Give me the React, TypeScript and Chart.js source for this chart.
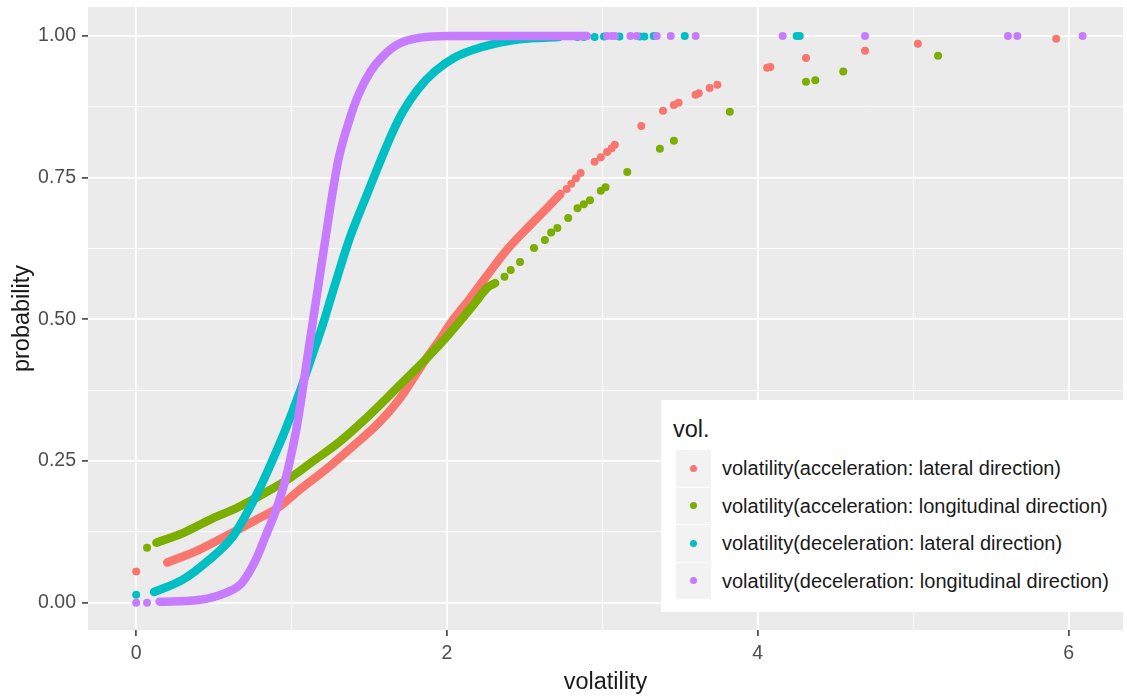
import React, { useEffect, useRef } from 'react';
import { Chart, registerables } from 'chart.js';

Chart.register(...registerables);

const FONT = '"Liberation Sans", Arial, Helvetica, sans-serif';

const SERIES_NAMES = [
  'volatility(acceleration: lateral direction)',
  'volatility(acceleration: longitudinal direction)',
  'volatility(deceleration: lateral direction)',
  'volatility(deceleration: longitudinal direction)',
];
const SERIES_COLORS = ['#F8766D', '#7CAE00', '#00BFC4', '#C77CFF'];

// acceleration: lateral direction (red)
const accLatDenseX = [0.2, 0.4, 0.6, 0.77, 0.92, 1.05, 1.22, 1.39, 1.56, 1.69, 1.77, 1.85, 1.95, 2.03, 2.14, 2.26, 2.39, 2.52, 2.65, 2.73];
const accLatDenseY = [0.071, 0.093, 0.121, 0.146, 0.169, 0.199, 0.235, 0.275, 0.317, 0.358, 0.39, 0.424, 0.463, 0.496, 0.534, 0.578, 0.624, 0.662, 0.698, 0.721];
const accLatDotsX = [0, 2.77, 2.8, 2.83, 2.86, 2.95, 2.99, 3.03, 3.06, 3.08, 3.25, 3.39, 3.46, 3.49, 3.6, 3.62, 3.69, 3.74, 4.06, 4.08, 4.31, 4.69, 5.03, 5.92];
const accLatDotsY = [0.055, 0.73, 0.739, 0.749, 0.758, 0.778, 0.786, 0.795, 0.802, 0.808, 0.841, 0.868, 0.878, 0.882, 0.896, 0.899, 0.908, 0.914, 0.944, 0.945, 0.961, 0.974, 0.986, 0.995];

// acceleration: longitudinal direction (green)
const accLonDenseX = [0.13, 0.3, 0.47, 0.66, 0.83, 1.0, 1.15, 1.3, 1.47, 1.62, 1.7, 1.8, 1.9, 2.0, 2.09, 2.18, 2.26, 2.31];
const accLonDenseY = [0.106, 0.123, 0.146, 0.169, 0.194, 0.222, 0.252, 0.282, 0.323, 0.363, 0.385, 0.412, 0.44, 0.47, 0.499, 0.529, 0.556, 0.564];
const accLonDotsX = [0.07, 2.37, 2.41, 2.47, 2.56, 2.63, 2.67, 2.71, 2.78, 2.84, 2.88, 2.92, 2.99, 3.02, 3.16, 3.37, 3.46, 3.82, 4.31, 4.37, 4.55, 5.16];
const accLonDotsY = [0.097, 0.575, 0.587, 0.601, 0.626, 0.64, 0.653, 0.661, 0.679, 0.696, 0.703, 0.71, 0.727, 0.733, 0.76, 0.801, 0.815, 0.866, 0.919, 0.922, 0.937, 0.965];

// deceleration: lateral direction (cyan)
const decLatDenseX = [0.115, 0.3, 0.47, 0.62, 0.7, 0.79, 0.87, 0.96, 1.05, 1.1, 1.15, 1.2, 1.25, 1.3, 1.37, 1.47, 1.58, 1.65, 1.72, 1.81, 1.92, 2.05, 2.22, 2.44, 2.65, 2.72];
const decLatDenseY = [0.019, 0.041, 0.076, 0.116, 0.152, 0.199, 0.247, 0.305, 0.37, 0.41, 0.45, 0.49, 0.535, 0.58, 0.64, 0.71, 0.785, 0.83, 0.868, 0.905, 0.937, 0.962, 0.98, 0.993, 0.997, 0.998];
const decLatDotsX = [0, 2.84, 2.88, 2.95, 3.01, 3.11, 3.24, 3.27, 3.33, 3.53, 4.25, 4.27];
const decLatDotsY = [0.014, 0.998, 0.998, 0.998, 0.999, 0.999, 0.999, 0.999, 1.0, 1.0, 1.0, 1.0];

// deceleration: longitudinal direction (purple)
const decLonDenseX = [0.15, 0.4, 0.58, 0.68, 0.77, 0.83, 0.9, 0.96, 1.03, 1.06, 1.1, 1.15, 1.2, 1.25, 1.3, 1.37, 1.43, 1.51, 1.58, 1.69, 1.83, 2.0, 2.3, 2.6, 2.9];
const decLonDenseY = [0.002, 0.005, 0.018, 0.035, 0.076, 0.116, 0.164, 0.217, 0.305, 0.355, 0.43, 0.52, 0.61, 0.7, 0.78, 0.85, 0.896, 0.938, 0.962, 0.986, 0.997, 1.0, 1.0, 1.0, 1.0];
const decLonDotsX = [0, 0.07, 3.03, 3.06, 3.08, 3.18, 3.22, 3.35, 3.44, 3.6, 4.16, 4.69, 5.61, 5.67, 6.09];
const decLonDotsY = [0, 0, 1.0, 1.0, 1.0, 1.0, 1.0, 1.0, 1.0, 1.0, 1.0, 1.0, 1.0, 1.0, 1.0];

const X_TICKS = [0, 1, 2, 3, 4, 5, 6];
const X_LABELLED = [0, 2, 4, 6];
const Y_TICKS = [0, 0.125, 0.25, 0.375, 0.5, 0.625, 0.75, 0.875, 1];
const Y_LABELLED = [0, 0.25, 0.5, 0.75, 1];

const SERIES = [
  { dx: accLatDenseX, dy: accLatDenseY, px: accLatDotsX, py: accLatDotsY },
  { dx: accLonDenseX, dy: accLonDenseY, px: accLonDotsX, py: accLonDotsY },
  { dx: decLatDenseX, dy: decLatDenseY, px: decLatDotsX, py: decLatDotsY },
  { dx: decLonDenseX, dy: decLonDenseY, px: decLonDotsX, py: decLonDotsY },
];

const toPts = (xs: number[], ys: number[]) => xs.map((x, i) => ({ x, y: ys[i] }));

const panelBg = {
  id: 'panelBg',
  beforeDraw(chart: any) {
    const { ctx, chartArea } = chart;
    ctx.save();
    ctx.fillStyle = '#EBEBEB';
    ctx.fillRect(chartArea.left, chartArea.top, chartArea.width, chartArea.height);
    ctx.restore();
  },
};

export default function App() {
  const ref = useRef<HTMLCanvasElement | null>(null);

  useEffect(() => {
    if (!ref.current) return;
    const datasets: any[] = [];
    SERIES.forEach((s, i) => {
      const color = SERIES_COLORS[i];
      datasets.push({
        type: 'line',
        label: SERIES_NAMES[i],
        data: toPts(s.dx, s.dy),
        borderColor: color,
        backgroundColor: color,
        borderWidth: 8.5,
        pointRadius: 0,
        showLine: true,
        fill: false,
        cubicInterpolationMode: 'monotone',
        borderCapStyle: 'round',
        borderJoinStyle: 'round',
        order: 3 - i,
      });
      datasets.push({
        type: 'scatter',
        label: SERIES_NAMES[i] + ' ',
        data: toPts(s.px, s.py),
        backgroundColor: color,
        borderColor: color,
        pointRadius: 4,
        pointBorderWidth: 0,
        borderWidth: 0,
        showLine: false,
        order: 3 - i,
      });
    });

    const chart = new Chart(ref.current, {
      type: 'scatter',
      data: { datasets },
      plugins: [panelBg],
      options: {
        animation: false,
        responsive: false,
        devicePixelRatio: 1,
        layout: { padding: { top: 7, left: 0, right: 0, bottom: 0 } },
        plugins: { legend: { display: false }, tooltip: { enabled: false } },
        scales: {
          x: {
            type: 'linear',
            min: -0.31,
            max: 6.35,
            afterBuildTicks: (s: any) => {
              s.ticks = X_TICKS.map((v) => ({ value: v }));
            },
            afterFit: (s: any) => {
              s.height = 70;
              s.paddingLeft = 0;
              s.paddingRight = 0;
            },
            border: { display: false },
            grid: {
              color: '#FFFFFF',
              lineWidth: (c: any) => (c.tick && X_LABELLED.includes(c.tick.value) ? 1.8 : 0.9),
              drawTicks: true,
              tickLength: 6,
              tickWidth: 1.5,
              tickColor: (c: any) => (c.tick && X_LABELLED.includes(c.tick.value) ? '#333333' : 'rgba(0,0,0,0)'),
            },
            ticks: {
              autoSkip: false,
              maxRotation: 0,
              padding: 6,
              color: '#4D4D4D',
              font: { family: FONT, size: 19.5, lineHeight: 1.2 },
              callback: (v: any) => (X_LABELLED.includes(Number(v)) ? String(v) : ''),
            },
            title: {
              display: true,
              text: 'volatility',
              color: '#1A1A1A',
              font: { family: FONT, size: 23.5, lineHeight: 1.2 },
              padding: { top: 0, bottom: 3 },
            },
          },
          y: {
            type: 'linear',
            min: -0.048,
            max: 1.051,
            afterBuildTicks: (s: any) => {
              s.ticks = Y_TICKS.map((v) => ({ value: v }));
            },
            afterFit: (s: any) => {
              s.width = 88;
              s.paddingTop = 0;
              s.paddingBottom = 0;
            },
            border: { display: false },
            grid: {
              color: '#FFFFFF',
              lineWidth: (c: any) => (c.tick && Y_LABELLED.includes(c.tick.value) ? 1.8 : 0.9),
              drawTicks: true,
              tickLength: 6,
              tickWidth: 1.5,
              tickColor: (c: any) => (c.tick && Y_LABELLED.includes(c.tick.value) ? '#333333' : 'rgba(0,0,0,0)'),
            },
            ticks: {
              autoSkip: false,
              padding: 6,
              color: '#4D4D4D',
              font: { family: FONT, size: 19.5, lineHeight: 1.2 },
              callback: (v: any) => (Y_LABELLED.includes(Number(v)) ? Number(v).toFixed(2) : ''),
            },
            title: {
              display: true,
              text: 'probability',
              color: '#1A1A1A',
              font: { family: FONT, size: 23.5, lineHeight: 1.2 },
              padding: { top: 8, bottom: 0 },
            },
          },
        },
      } as any,
    });
    return () => chart.destroy();
  }, []);

  const rowTops = [50, 87.5, 125, 162.5];

  return (
    <div style={{ position: 'absolute', left: 0, top: 0, width: 1127, height: 700, background: '#FFFFFF', fontFamily: FONT }}>
      <canvas ref={ref} width={1127} height={700} style={{ width: 1127, height: 700, display: 'block' }} />
      <div style={{ position: 'absolute', left: 661, top: 400, width: 463, height: 212, background: '#FFFFFF' }}>
        <div style={{ position: 'absolute', left: 12, top: 15, fontSize: 23.5, lineHeight: '28px', color: '#1A1A1A', whiteSpace: 'nowrap' }}>vol.</div>
        {SERIES_NAMES.map((name, i) => (
          <React.Fragment key={name}>
            <div style={{ position: 'absolute', left: 15, top: rowTops[i], width: 35, height: 36.5, background: '#F2F2F2' }}>
              <div style={{ position: 'absolute', left: 13.5, top: 14.75, width: 7, height: 7, borderRadius: '50%', background: SERIES_COLORS[i] }} />
            </div>
            <div style={{ position: 'absolute', left: 61, top: rowTops[i], height: 36.5, lineHeight: '36.5px', fontSize: 20, color: '#1A1A1A', whiteSpace: 'nowrap' }}>{name}</div>
          </React.Fragment>
        ))}
      </div>
    </div>
  );
}
